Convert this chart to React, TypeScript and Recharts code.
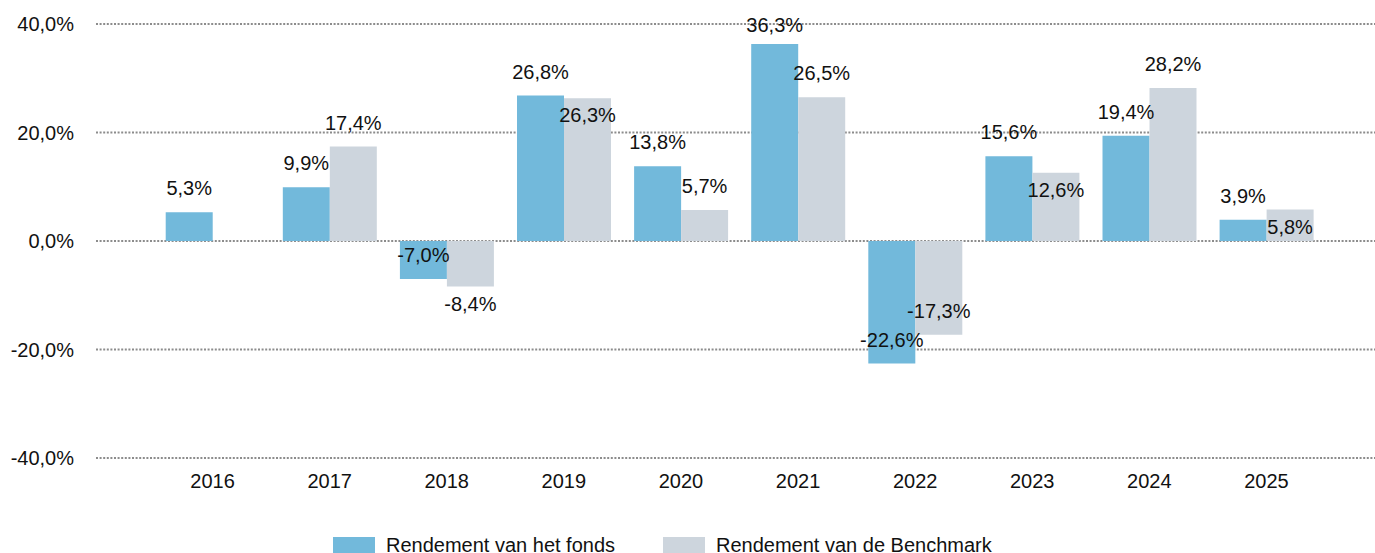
import React from 'react';
import { BarChart, Bar, XAxis, YAxis, CartesianGrid, LabelList, Legend } from 'recharts';

const YEARS = ['2016', '2017', '2018', '2019', '2020', '2021', '2022', '2023', '2024', '2025'];
const FUND = [5.3, 9.9, -7.0, 26.8, 13.8, 36.3, -22.6, 15.6, 19.4, 3.9];
const BENCH: (number | null)[] = [null, 17.4, -8.4, 26.3, 5.7, 26.5, -17.3, 12.6, 28.2, 5.8];
const Y_TICKS = [-40, -20, 0, 20, 40];
const FUND_NAME = 'Rendement van het fonds';
const BENCH_NAME = 'Rendement van de Benchmark';

const FUND_COLOR = '#72B9DB';
const BENCH_COLOR = '#CDD5DD';
const FONT = '"Liberation Sans", Arial, sans-serif';
const TEXT = '#111';

const data = YEARS.map((year, i) => ({ year, fund: FUND[i], bench: BENCH[i] }));

const fmt = (v: number) => `${v.toFixed(1).replace('.', ',')}%`;

function geom(p: any) {
  const v = Number(p.value);
  const y = Number(p.y);
  const h = Number(p.height);
  const a = y;
  const b = y + h;
  const end = v >= 0 ? Math.min(a, b) : Math.max(a, b);
  const zero = v >= 0 ? Math.max(a, b) : Math.min(a, b);
  const ppu = Math.abs(h) / Math.abs(v);
  return { end, zero, ppu };
}

const defaultCy = (end: number) => Math.max(end - 24, 25);

const FundLabel = (p: any) => {
  if (p.value === null || p.value === undefined) return null;
  const { end } = geom(p);
  const cx = Number(p.x) + Number(p.width) / 2;
  return (
    <text x={cx} y={defaultCy(end)} dy="0.35em" textAnchor="middle" fontSize={20} fontFamily={FONT} fill={TEXT}>
      {fmt(Number(p.value))}
    </text>
  );
};

const BenchLabel = (p: any) => {
  if (p.value === null || p.value === undefined) return null;
  const { end, zero, ppu } = geom(p);
  const idx = BENCH.indexOf(Number(p.value));
  const fundVal = FUND[idx];
  const fundCy = defaultCy(zero - fundVal * ppu);
  let cy = defaultCy(end);
  if (Math.abs(cy - fundCy) < 20) cy = end + 17;
  const cx = Number(p.x) + Number(p.width) / 2;
  return (
    <text x={cx} y={cy} dy="0.35em" textAnchor="middle" fontSize={20} fontFamily={FONT} fill={TEXT}>
      {fmt(Number(p.value))}
    </text>
  );
};

const LegendContent = () => {
  const items = [
    { name: FUND_NAME, color: FUND_COLOR, w: 330 },
    { name: BENCH_NAME, color: BENCH_COLOR, w: 360 },
  ];
  return (
    <div style={{ display: 'flex', paddingLeft: 333, fontFamily: FONT, fontSize: 20, lineHeight: '20px', color: TEXT }}>
      {items.map((it) => (
        <div key={it.name} style={{ display: 'flex', alignItems: 'flex-start', width: it.w }}>
          <div style={{ width: 42, height: 18, marginTop: 2, marginRight: 11, background: it.color }} />
          <span style={{ whiteSpace: 'nowrap' }}>{it.name}</span>
        </div>
      ))}
    </div>
  );
};

export default function App() {
  return (
    <div style={{ position: 'fixed', left: 0, top: 0, width: 1375, height: 553, overflow: 'hidden', background: '#fff' }}>
      <BarChart
        width={1375}
        height={553}
        data={data}
        margin={{ top: 24, right: 0, left: 0, bottom: 0 }}
        barCategoryGap="10%"
        barGap={0}
      >
        <CartesianGrid vertical={false} stroke="#8c8c8c" strokeWidth={2} strokeDasharray="2 1.6" />
        <XAxis
          dataKey="year"
          axisLine={false}
          tickLine={false}
          tickSize={0}
          tickMargin={16}
          height={40}
          padding={{ left: 58, right: 50 }}
          tick={{ fontSize: 20, fontFamily: FONT, fill: TEXT }}
          interval={0}
        />
        <YAxis
          domain={[-40, 40]}
          ticks={Y_TICKS}
          axisLine={false}
          tickLine={false}
          tickSize={0}
          tickMargin={22}
          width={96}
          tickFormatter={(v: number) => fmt(v)}
          tick={{ fontSize: 20, fontFamily: FONT, fill: TEXT }}
        />
        <Legend
          verticalAlign="bottom"
          height={55}
          wrapperStyle={{ top: 535, left: 0, width: 1375 }}
          content={() => <LegendContent />}
        />
        <Bar dataKey="fund" name={FUND_NAME} fill={FUND_COLOR} isAnimationActive={false}>
          <LabelList dataKey="fund" content={FundLabel} />
        </Bar>
        <Bar dataKey="bench" name={BENCH_NAME} fill={BENCH_COLOR} isAnimationActive={false}>
          <LabelList dataKey="bench" content={BenchLabel} />
        </Bar>
      </BarChart>
    </div>
  );
}
